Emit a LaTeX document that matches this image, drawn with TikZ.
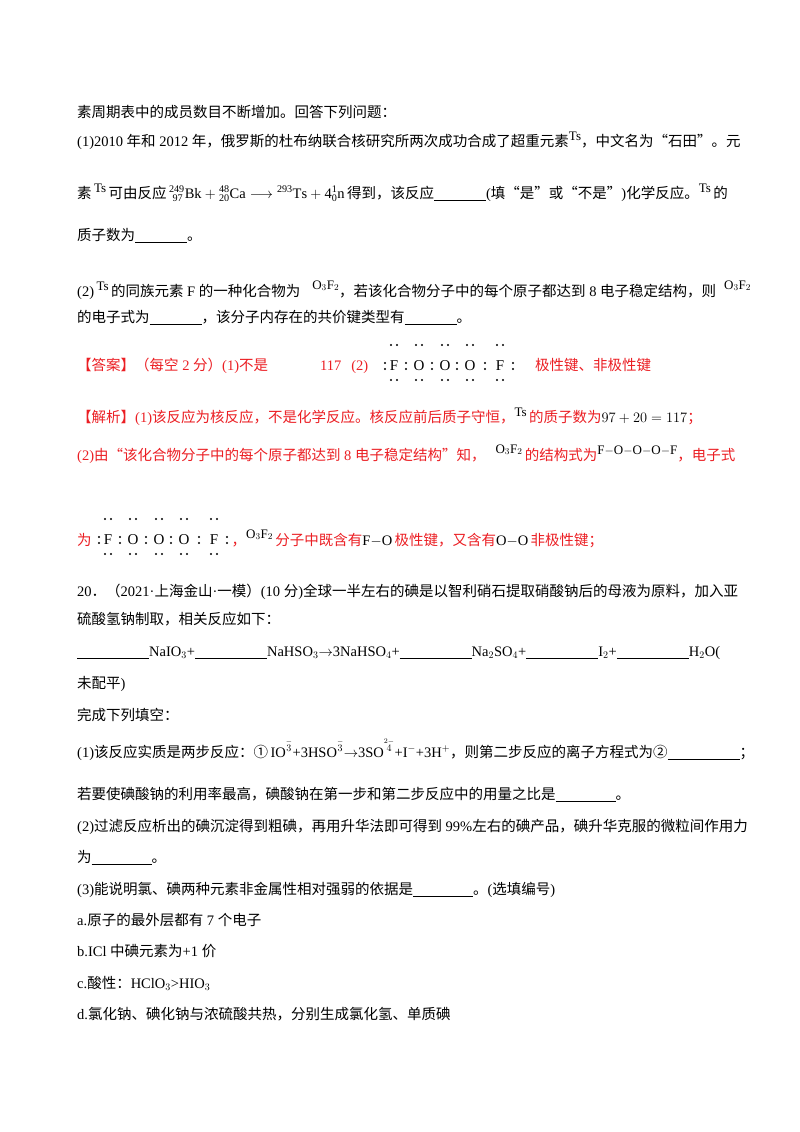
\documentclass[tikz,border=0pt]{standalone}
\usepackage{fontspec}
\usepackage{amsmath}
\setmainfont{Liberation Serif}
\newfontfamily\cjk{Noto Sans CJK SC}
\newXeTeXintercharclass\cjkclass
\count255="4E00
\loop\XeTeXcharclass\count255=\cjkclass\advance\count255 by 1 \ifnum\count255<"A000 \repeat
\count255="3000
\loop\XeTeXcharclass\count255=\cjkclass\advance\count255 by 1 \ifnum\count255<"3040 \repeat
\count255="FF00
\loop\XeTeXcharclass\count255=\cjkclass\advance\count255 by 1 \ifnum\count255<"FFF0 \repeat
\XeTeXcharclass"201C=\cjkclass \XeTeXcharclass"201D=\cjkclass \XeTeXcharclass"2460=\cjkclass \XeTeXcharclass"2461=\cjkclass
\XeTeXinterchartoks 0 \cjkclass={\begingroup\cjk}
\XeTeXinterchartoks 4095 \cjkclass={\begingroup\cjk}
\XeTeXinterchartoks \cjkclass 0={\endgroup}
\XeTeXinterchartoks \cjkclass 4095={\endgroup}
\XeTeXinterchartokenstate=1
\definecolor{ans}{RGB}{235,30,35}
\newcommand\bl[1]{\underline{\hspace{#1}}}
\newcommand\rz[1]{\raisebox{6pt}{\fontsize{13}{15}\selectfont #1}}
\newcommand\OF{\raisebox{7pt}{\fontsize{13}{15}\selectfont O$_3$F$_2$}}
\newcommand\ion[2]{$^{\overset{\scriptscriptstyle #2}{#1}}$}
\begin{document}
\begin{tikzpicture}[x=1pt,y=-1pt,
  ln/.style={anchor=base west,inner sep=0pt,font=\fontsize{14.5}{17}\selectfont},
  rd/.style={ln,text=ans},
  atomtxt/.style={inner sep=0pt,font=\fontsize{15}{17}\selectfont}]
\useasboundingbox (0,0) rectangle (800,1132);
\node[ln] (l1) at (77,117) {素周期表中的成员数目不断增加。回答下列问题：};
\node[ln] (l2) at (77,146) {(1)2010 年和 2012 年，俄罗斯的杜布纳联合核研究所两次成功合成了超重元素\rz{Ts}，中文名为“石田”。元};
\node[ln] (l3) at (77,198) {素\,\rz{Ts}\,可由反应\,$\mathrm{{}^{249}_{\ 97}Bk+{}^{48}_{20}Ca\longrightarrow{}^{293}Ts+4{}^{1}_{0}n}$\,得到，该反应\bl{52pt}(填“是”或“不是”)化学反应。\rz{Ts}\,的};
\node[ln] (l4) at (77,240) {质子数为\bl{52pt}。};
\node[ln] (l5) at (77,296) {(2)\,\rz{Ts}\,的同族元素 F 的一种化合物为\hspace{12pt}\OF，若该化合物分子中的每个原子都达到 8 电子稳定结构，则\hspace{8pt}\OF};
\node[ln] (l6) at (77,322) {的电子式为\bl{52pt}，该分子内存在的共价键类型有\bl{52pt}。};
\node[rd] (l7) at (77,370) {【答案】（每空 2 分）(1)不是\hspace{52pt}117\hspace{10pt}(2)};
\node[rd] (l7b) at (535,370) {极性键、非极性键};
\node[rd] (l8) at (77,422) {【解析】(1)该反应为核反应，不是化学反应。核反应前后质子守恒，\textcolor{black}{\rz{Ts}}\,的质子数为\textcolor{black}{$97+20=117$}；};
\node[rd] (l9) at (77,460) {(2)由“该化合物分子中的每个原子都达到 8 电子稳定结构”知，\hspace{10pt}\textcolor{black}{\OF}\,的结构式为\textcolor{black}{\rz{F$-$O$-$O$-$O$-$F}}，电子式};
\node[rd] (l10) at (77,545) {为\hspace{140pt}，\textcolor{black}{\OF}\,分子中既含有\textcolor{black}{F$-$O}\,极性键，又含有\textcolor{black}{O$-$O}\,非极性键；};
\foreach \bx/\by in {394/366, 108/540}{
  \foreach \dx/\t [count=\i] in {0/F,25/O,51/O,76/O,106/F}{
    \node[atomtxt] (a\i) at (\bx+\dx,\by) {\t};
    \fill (\bx+\dx-3,\by-21) circle (1.2) (\bx+\dx+3,\by-21) circle (1.2);
    \fill (\bx+\dx-3,\by+14) circle (1.2) (\bx+\dx+3,\by+14) circle (1.2);
  }
  \foreach \dx in {-9,12,38,63,91,119}{
    \fill (\bx+\dx,\by-3) circle (1.2) (\bx+\dx,\by+3) circle (1.2);
  }
}
\node[ln] (m1) at (77,596) {20．（2021·上海金山·一模）(10 分)全球一半左右的碘是以智利硝石提取硝酸钠后的母液为原料，加入亚};
\node[ln] (m2) at (77,624) {硫酸氢钠制取，相关反应如下：};
\node[ln] (m3) at (77,656) {\bl{72pt}NaIO$_3$+\bl{72pt}NaHSO$_3$$\rightarrow$3NaHSO$_4$+\bl{72pt}Na$_2$SO$_4$+\bl{72pt}I$_2$+\bl{72pt}H$_2$O(};
\node[ln] (m4) at (77,688) {未配平)};
\node[ln] (m5) at (77,720) {完成下列填空：};
\node[ln] (m6) at (77,757) {(1)该反应实质是两步反应：①\,IO\ion{3}{-}+3HSO\ion{3}{-}$\rightarrow$3SO\ion{4}{2-}+I$^{-}$+3H$^{+}$，则第二步反应的离子方程式为②\bl{72pt}；};
\node[ln] (m7) at (77,799) {若要使碘酸钠的利用率最高，碘酸钠在第一步和第二步反应中的用量之比是\bl{60pt}。};
\node[ln] (m8) at (77,831) {(2)过滤反应析出的碘沉淀得到粗碘，再用升华法即可得到 99\%左右的碘产品，碘升华克服的微粒间作用力};
\node[ln] (m9) at (77,862) {为\bl{60pt}。};
\node[ln] (m10) at (77,894) {(3)能说明氯、碘两种元素非金属性相对强弱的依据是\bl{60pt}。(选填编号)};
\node[ln] (m11) at (77,925) {a.原子的最外层都有 7 个电子};
\node[ln] (m12) at (77,956) {b.ICl 中碘元素为+1 价};
\node[ln] (m13) at (77,988) {c.酸性：HClO$_3$>HIO$_3$};
\node[ln] (m14) at (77,1019) {d.氯化钠、碘化钠与浓硫酸共热，分别生成氯化氢、单质碘};
\end{tikzpicture}
\end{document}
